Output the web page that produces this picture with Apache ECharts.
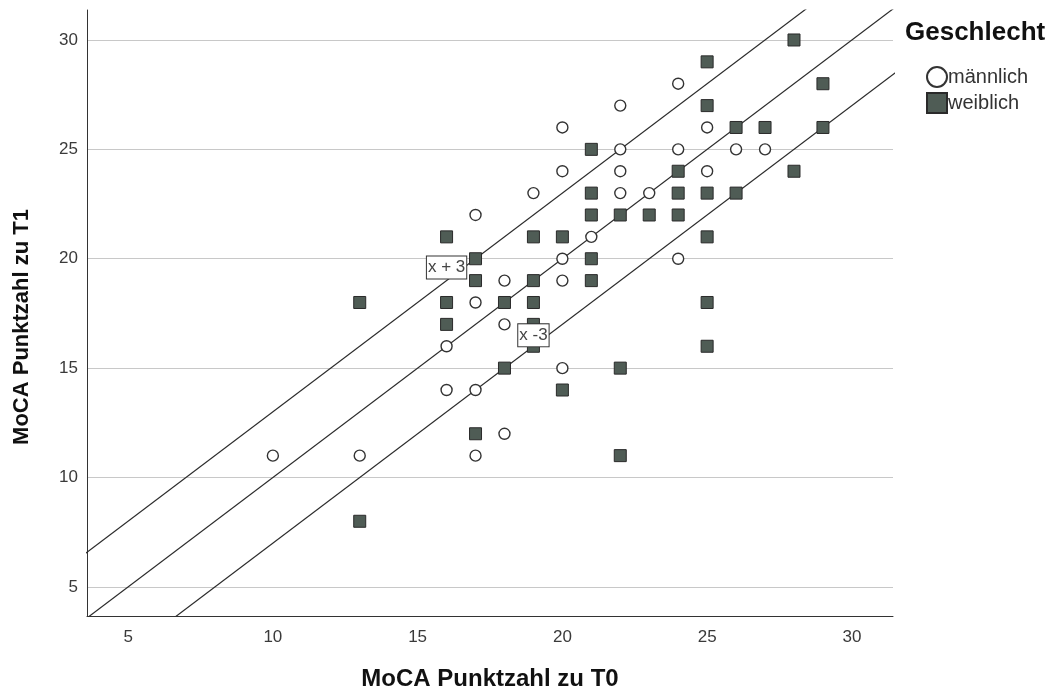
<!DOCTYPE html>
<html>
<head>
<meta charset="utf-8">
<script src="https://cdn.jsdelivr.net/npm/echarts@6/dist/echarts.min.js"></script>
<style>
  html, body { margin: 0; padding: 0; background: #fff; }
  #chart { width: 1058px; height: 693px; }
</style>
</head>
<body>
<div id="chart"></div>
<script>
// MoCA score at T0 (x) versus T1 (y), by sex
const maleScores = [
  [10, 11], [13, 11], [16, 16], [16, 14], [17, 22], [17, 18], [17, 14], [17, 11],
  [18, 19], [18, 17], [18, 12], [19, 23], [20, 26], [20, 24], [20, 20], [20, 19],
  [20, 15], [21, 21], [22, 27], [22, 25], [22, 24], [22, 23], [23, 23], [24, 28],
  [24, 25], [24, 20], [25, 26], [25, 24], [26, 25], [27, 25]
];
const femaleScores = [
  [13, 18], [13, 8], [16, 21], [16, 18], [16, 17], [17, 20], [17, 19], [17, 12],
  [18, 18], [18, 15], [19, 21], [19, 19], [19, 18], [19, 17], [19, 16], [20, 21],
  [20, 14], [21, 25], [21, 23], [21, 22], [21, 20], [21, 19], [22, 22], [22, 15],
  [22, 11], [23, 22], [24, 24], [24, 23], [24, 22], [25, 29], [25, 27], [25, 23],
  [25, 21], [25, 18], [25, 16], [26, 26], [26, 23], [27, 26], [28, 30], [28, 24],
  [29, 28], [29, 26]
];
const groupNames = ['männlich', 'weiblich'];
const tickValues = [5, 10, 15, 20, 25, 30];
// reference lines y = x + offset
const lineOffsets = [3, 0, -3];
const lineLabels = [
  { text: 'x + 3', at: [16, 19.6] },
  { text: 'x -3', at: [19, 16.5] }
];
const xRange = [3.58, 31.42];
const yRange = [3.67, 31.37];

const sans = "'Liberation Sans', Arial, sans-serif";

const refLineSeries = lineOffsets.map((off, i) => ({
  type: 'line',
  data: [[0, 0 + off], [40, 40 + off]],
  symbol: 'none',
  silent: true,
  clip: true,
  lineStyle: { color: '#2b2b2b', width: 1.2 },
  z: 3,
  markPoint: i === 0 ? {
    symbol: 'rect',
    symbolSize: 0,
    silent: true,
    data: lineLabels.map(l => ({
      coord: l.at,
      label: {
        show: true,
        formatter: l.text,
        fontFamily: sans,
        fontSize: 17,
        color: '#444',
        backgroundColor: '#fff',
        borderColor: '#333',
        borderWidth: 1,
        padding: [3, 1, 2, 1]
      }
    }))
  } : undefined
}));

const chart = echarts.init(document.getElementById('chart'), null, { renderer: 'canvas' });
chart.setOption({
  animation: false,
  backgroundColor: '#fff',
  grid: { left: 87, right: 165, top: 10, bottom: 77, outerBoundsMode: 'none', containLabel: false },
  xAxis: {
    type: 'value',
    min: xRange[0],
    max: xRange[1],
    name: 'MoCA Punktzahl zu T0',
    nameLocation: 'middle',
    nameGap: 51,
    nameTextStyle: { fontFamily: sans, fontWeight: 'bold', fontSize: 24, color: '#111' },
    axisLine: { show: true, lineStyle: { color: '#333', width: 1 } },
    axisTick: { show: false, customValues: tickValues },
    axisLabel: {
      customValues: tickValues,
      fontFamily: sans, fontSize: 17, color: '#3a3a3a', margin: 13
    },
    splitLine: { show: false }
  },
  yAxis: {
    type: 'value',
    min: yRange[0],
    max: yRange[1],
    axisLine: { show: true, lineStyle: { color: '#333', width: 1 } },
    axisTick: { show: false, customValues: tickValues },
    axisLabel: {
      customValues: tickValues,
      fontFamily: sans, fontSize: 17, color: '#3a3a3a', margin: 9
    },
    splitLine: { show: true, lineStyle: { color: '#c8c8c8', width: 1 } }
  },
  legend: {
    orient: 'vertical',
    left: 921,
    top: 61,
    itemWidth: 20,
    itemHeight: 20,
    itemGap: 4,
    data: [
      { name: groupNames[0], icon: 'circle' },
      { name: groupNames[1], icon: 'rect' }
    ],
    textStyle: { fontFamily: sans, fontSize: 20, color: '#333', padding: [0, 0, 0, -4] }
  },
  graphic: [
    {
      type: 'text',
      left: 905,
      top: 20,
      style: {
        text: 'Geschlecht',
        fontFamily: sans,
        fontWeight: 'bold',
        fontSize: 26,
        fill: '#111'
      }
    },
    {
      // y-axis title, rotated
      type: 'text',
      x: 22,
      y: 327,
      rotation: Math.PI / 2,
      style: {
        text: 'MoCA Punktzahl zu T1',
        fontFamily: sans,
        fontWeight: 'bold',
        fontSize: 22,
        fill: '#111',
        align: 'center',
        verticalAlign: 'middle'
      }
    }
  ],
  series: [
    ...refLineSeries,
    {
      name: groupNames[0],
      type: 'scatter',
      data: maleScores,
      symbol: 'circle',
      symbolSize: 11,
      itemStyle: { color: '#fff', borderColor: '#333', borderWidth: 1.4, opacity: 1 },
      z: 4
    },
    {
      name: groupNames[1],
      type: 'scatter',
      data: femaleScores,
      symbol: 'rect',
      symbolSize: 12,
      itemStyle: { color: '#4f5c55', borderColor: '#2a2a2a', borderWidth: 1, opacity: 1 },
      z: 4
    }
  ]
});
</script>
</body>
</html>
